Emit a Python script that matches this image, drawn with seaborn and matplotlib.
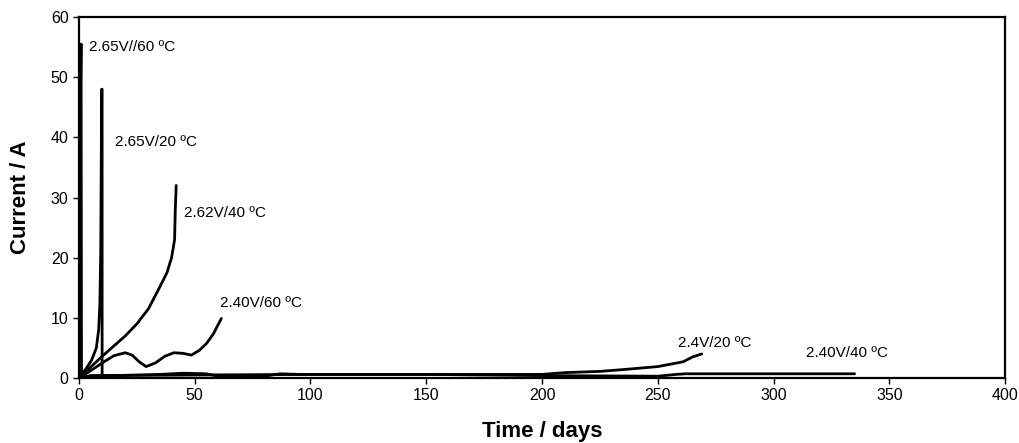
import pandas as pd
import matplotlib
matplotlib.use('Agg')
import matplotlib.pyplot as plt
import seaborn as sns

# Values (time in days, current in A)
t_265_60 = [0, 0.3, 0.6, 0.9, 1.1]
i_265_60 = [0, 25, 45, 55.5, 0]

t_265_20 = [0, 3, 5.5, 7.5, 8.5, 9.0, 9.4, 9.8, 10.0, 10.0]
i_265_20 = [0, 1.5, 3, 5, 8, 12, 21, 48, 48, 0]

t_262_40 = [0, 10, 20, 25, 30, 35, 38, 40, 41.3, 41.6, 42]
i_262_40 = [0, 3.6, 7.0, 9.0, 11.5, 15.2, 17.5, 20, 23, 28, 32]

t_240_60 = [0, 5, 10, 15, 20, 23, 26, 29, 33, 37, 41, 45, 48.5, 52, 55, 58, 61.5]
i_240_60 = [0, 1.2, 2.5, 3.7, 4.2, 3.8, 2.7, 1.9, 2.5, 3.6, 4.2, 4.1, 3.8, 4.6, 5.7, 7.3, 9.9]

t_24_20 = [0, 5, 50, 100, 150, 200, 210, 225, 235, 250, 261, 265, 269]
i_24_20 = [0, 0.4, 0.5, 0.6, 0.6, 0.6, 0.9, 1.1, 1.4, 1.9, 2.7, 3.5, 4.0]

t_240_40 = [0, 5, 35, 45, 55, 60, 80, 87, 95, 150, 200, 250, 258, 262, 335]
i_240_40 = [0, 0.3, 0.6, 0.8, 0.7, 0.3, 0.3, 0.7, 0.6, 0.6, 0.4, 0.3, 0.6, 0.7, 0.7]

series = [
    ('2.65V//60 ºC', t_265_60, i_265_60, (4.3, 55)),
    ('2.65V/20 ºC', t_265_20, i_265_20, (15.5, 39.2)),
    ('2.62V/40 ºC', t_262_40, i_262_40, (45.4, 27.4)),
    ('2.40V/60 ºC', t_240_60, i_240_60, (60.9, 12.5)),
    ('2.4V/20 ºC', t_24_20, i_24_20, (258.7, 5.8)),
    ('2.40V/40 ºC', t_240_40, i_240_40, (314, 4.2)),
]

sns.set_style('ticks')
plt.rcParams['font.family'] = ['Liberation Sans', 'DejaVu Sans']
plt.rcParams['text.color'] = 'black'
plt.rcParams['axes.labelcolor'] = 'black'

fig = plt.figure(figsize=(10.19, 4.43), dpi=100)
ax = fig.add_axes([0.0775, 0.1467, 0.9088, 0.8149])

for name, t, i, pos in series:
    df = pd.DataFrame({'Time': t, 'Current': i})
    sns.lineplot(data=df, x='Time', y='Current', sort=False, estimator=None,
                 color='black', linewidth=2.0, ax=ax)
    ax.text(pos[0], pos[1], name, fontsize=11, va='center', ha='left', color='black')

ax.set_xlim(0, 400)
ax.set_ylim(0, 60)
ax.set_xticks(range(0, 401, 50))
ax.set_yticks(range(0, 61, 10))
ax.set_xlabel('Time / days', fontsize=16, fontweight='bold', labelpad=13)
ax.set_ylabel('Current / A', fontsize=16, fontweight='bold', labelpad=14)
ax.tick_params(axis='both', direction='out', length=4, width=1, colors='black', labelsize=11.5)
for s in ax.spines.values():
    s.set_linewidth(1.6)
    s.set_color('black')

fig.savefig('out.png', dpi=100)
